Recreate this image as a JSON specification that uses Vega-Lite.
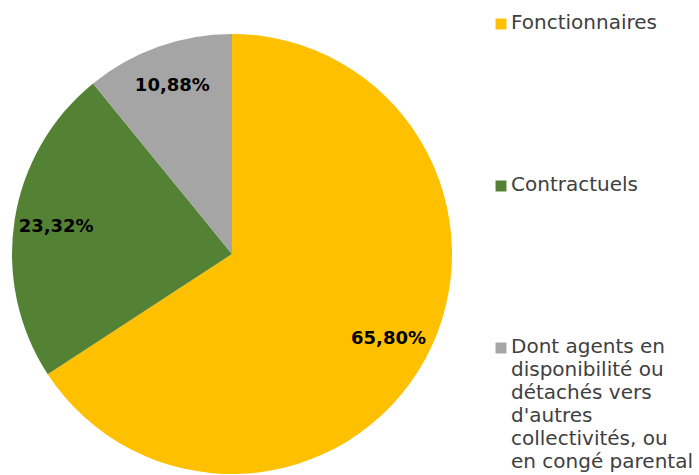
{
  "$schema": "https://vega.github.io/schema/vega-lite/v6.json",
  "width": 464,
  "height": 508,
  "padding": 0,
  "autosize": {"type": "pad"},
  "background": "white",
  "config": {
    "view": {"stroke": null},
    "locale": {"number": {"decimal": ",", "thousands": " ", "grouping": [3], "currency": ["", " €"]}},
    "font": "DejaVu Sans"
  },
  "data": {
    "values": [
      {"categorie": "Fonctionnaires", "part": 0.658, "ordre": 1},
      {"categorie": "Contractuels", "part": 0.2332, "ordre": 2},
      {"categorie": "Dont agents en disponibilité ou détachés vers d'autres collectivités, ou en congé parental", "part": 0.1088, "ordre": 3}
    ]
  },
  "encoding": {
    "theta": {"field": "part", "type": "quantitative", "stack": true},
    "order": {"field": "ordre", "type": "quantitative"},
    "color": {
      "field": "categorie",
      "type": "nominal",
      "sort": ["Fonctionnaires", "Contractuels", "Dont agents en disponibilité ou détachés vers d'autres collectivités, ou en congé parental"],
      "scale": {
        "domain": ["Fonctionnaires", "Contractuels", "Dont agents en disponibilité ou détachés vers d'autres collectivités, ou en congé parental"],
        "range": ["#FFC000", "#548235", "#A5A5A5"]
      },
      "legend": {
        "title": null,
        "orient": "none",
        "legendX": 491,
        "legendY": 14,
        "padding": 0,
        "symbolType": "square",
        "symbolSize": 120,
        "symbolStrokeWidth": 0,
        "labelFont": "DejaVu Sans",
        "labelFontSize": 20,
        "labelColor": "#404040",
        "labelOffset": 0,
        "labelLimit": 300,
        "rowPadding": 142,
        "labelExpr": "datum.label == 'Fonctionnaires' || datum.label == 'Contractuels' ? datum.label : ['Dont agents en', 'disponibilité ou', 'détachés vers', \"d'autres\", 'collectivités, ou', 'en congé parental']",
        "labelBaseline": "top",
        "encode": {
          "labels": {"update": {"dy": {"value": -11}, "lineHeight": {"value": 23}}}
        }
      }
    }
  },
  "layer": [
    {"mark": {"type": "arc", "outerRadius": 220}},
    {
      "mark": {"type": "text", "radius": 178, "font": "DejaVu Sans", "fontSize": 18, "fontWeight": "bold", "color": "black"},
      "encoding": {
        "text": {"field": "part", "type": "quantitative", "format": ".2%"},
        "color": {"value": "black"}
      }
    }
  ]
}
